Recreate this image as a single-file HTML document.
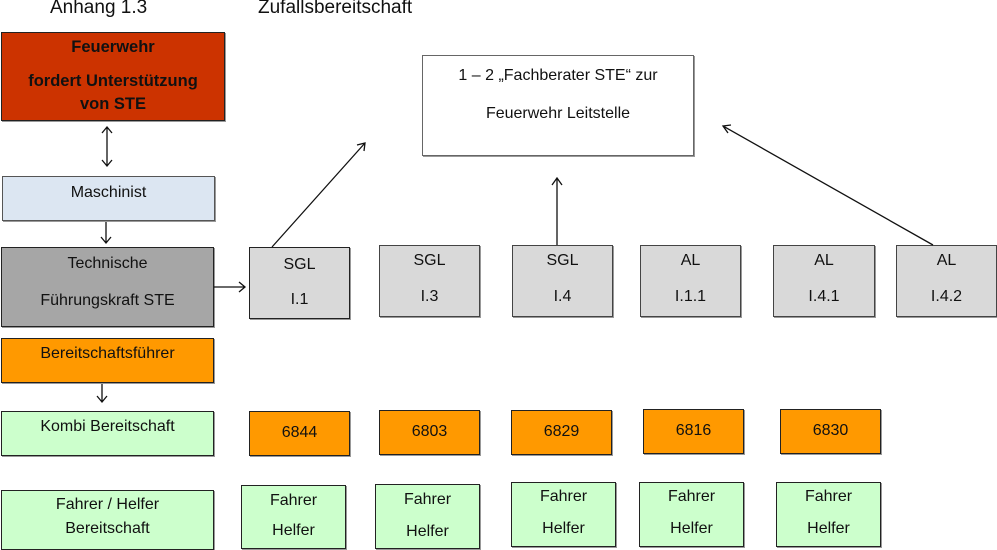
<!DOCTYPE html>
<html><head><meta charset="utf-8"><style>
body{margin:0;width:997px;height:550px;position:relative;background:#fff;font-family:"Liberation Sans",Arial,sans-serif;overflow:hidden}
.b{position:absolute;box-sizing:border-box;border:1.5px solid #222;text-align:center;font-size:16px;color:#111;box-shadow:1px 1px 0 #999}
.t{position:absolute;font-size:19px;color:#111;font-family:"Liberation Sans",sans-serif}
.g{background:#d9d9d9;border-color:#444}
.o{background:#ff9900}
.gr{background:#ccffcc}
p{margin:0;position:absolute;left:0;right:0}
</style></head><body>
<div class="t" style="left:50px;top:-3px">Anhang 1.3</div>
<div class="t" style="left:258px;top:-3px">Zufallsbereitschaft</div>

<div class="b" style="left:1px;top:32px;width:224px;height:89px;background:#cc3300;font-weight:bold;font-size:16.5px"><p style="top:5px">Feuerwehr</p><p style="top:39px">fordert Unterstützung</p><p style="top:62px">von STE</p></div>
<div class="b" style="left:2px;top:176px;width:213px;height:45px;background:#dce6f2;border-color:#555"><p style="top:7px">Maschinist</p></div>
<div class="b" style="left:1px;top:247px;width:213px;height:80px;background:#a6a6a6"><p style="top:7px">Technische</p><p style="top:44px">Führungskraft STE</p></div>
<div class="b o" style="left:1px;top:338px;width:213px;height:45px"><p style="top:6px">Bereitschaftsführer</p></div>
<div class="b gr" style="left:1px;top:411px;width:213px;height:45px"><p style="top:6px">Kombi Bereitschaft</p></div>
<div class="b gr" style="left:1px;top:490px;width:213px;height:60px"><p style="top:5px">Fahrer / Helfer</p><p style="top:29px">Bereitschaft</p></div>

<div class="b" style="left:422px;top:55px;width:272px;height:101px;border-color:#666;background:#fff"><p style="top:11px">1 – 2 „Fachberater STE“ zur</p><p style="top:49px">Feuerwehr Leitstelle</p></div>

<div class="b g" style="left:249px;top:247px;width:101px;height:72px;border-color:#222"><p style="top:8px">SGL</p><p style="top:43px">I.1</p></div>
<div class="b g" style="left:379px;top:245px;width:101px;height:72px"><p style="top:6px">SGL</p><p style="top:42px">I.3</p></div>
<div class="b g" style="left:512px;top:245px;width:101px;height:72px"><p style="top:6px">SGL</p><p style="top:42px">I.4</p></div>
<div class="b g" style="left:640px;top:245px;width:101px;height:72px"><p style="top:6px">AL</p><p style="top:42px">I.1.1</p></div>
<div class="b g" style="left:773px;top:245px;width:102px;height:72px"><p style="top:6px">AL</p><p style="top:42px">I.4.1</p></div>
<div class="b g" style="left:896px;top:245px;width:101px;height:72px"><p style="top:6px">AL</p><p style="top:42px">I.4.2</p></div>

<div class="b o" style="left:249px;top:411px;width:101px;height:45px"><p style="top:12px">6844</p></div>
<div class="b o" style="left:379px;top:410px;width:101px;height:45px"><p style="top:12px">6803</p></div>
<div class="b o" style="left:511px;top:410px;width:101px;height:45px"><p style="top:12px">6829</p></div>
<div class="b o" style="left:643px;top:409px;width:101px;height:45px"><p style="top:12px">6816</p></div>
<div class="b o" style="left:780px;top:409px;width:101px;height:45px"><p style="top:12px">6830</p></div>

<div class="b gr" style="left:241px;top:485px;width:105px;height:64px"><p style="top:6px">Fahrer</p><p style="top:36px">Helfer</p></div>
<div class="b gr" style="left:375px;top:484px;width:105px;height:65px"><p style="top:6px">Fahrer</p><p style="top:38px">Helfer</p></div>
<div class="b gr" style="left:511px;top:482px;width:105px;height:65px"><p style="top:5px">Fahrer</p><p style="top:37px">Helfer</p></div>
<div class="b gr" style="left:639px;top:482px;width:105px;height:65px"><p style="top:5px">Fahrer</p><p style="top:37px">Helfer</p></div>
<div class="b gr" style="left:776px;top:482px;width:105px;height:65px"><p style="top:5px">Fahrer</p><p style="top:37px">Helfer</p></div>

<svg width="997" height="550" style="position:absolute;left:0;top:0" fill="none" stroke="#111" stroke-width="1.3">
<path d="M107 127V166M102 133L107 127L112 133M102 160L107 166L112 160"/>
<path d="M106 222V243M101 237L106 243L111 237"/>
<path d="M214 287H245M239 282L245 287L239 292"/>
<path d="M102 384V402M97 396L102 402L107 396"/>
<path d="M272 247L365 143M357 145L365 143L364 151"/>
<path d="M557 245V178M552 185L557 178L562 185"/>
<path d="M933 245L723 126M728 133L723 126L731 125"/>
</svg>
</body></html>
